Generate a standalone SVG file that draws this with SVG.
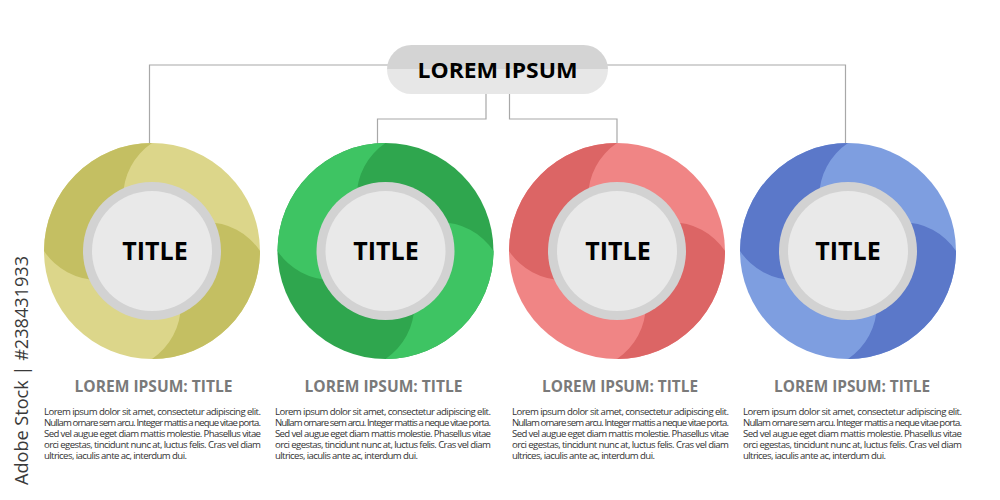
<svg xmlns="http://www.w3.org/2000/svg" width="1000" height="500" viewBox="0 0 1000 500">
<style>
.conn{fill:none;stroke:#a8a8a8;stroke-width:1.2}
.ring{fill:#d2d2d2}
.core{fill:#e9e9e9}
.ttl{font-family:"Open Sans","Liberation Sans",sans-serif;font-weight:bold;font-size:25px;fill:#000;text-anchor:middle}
.sub{font-family:"Open Sans","Liberation Sans",sans-serif;font-weight:bold;font-size:16px;fill:#7a7a7a;text-anchor:middle}
.body{font-family:"Open Sans","Liberation Sans",sans-serif;font-size:9.6px;fill:#333}
.main{font-family:"Open Sans","Liberation Sans",sans-serif;font-weight:bold;font-size:22px;fill:#000;text-anchor:middle}
.wm{font-family:"Open Sans","Liberation Sans",sans-serif;font-size:19px;fill:#3a3a3a}
</style>
<defs>
<linearGradient id="pillg" x1="0" y1="0" x2="0" y2="1">
<stop offset="0" stop-color="#d4d4d4"/>
<stop offset="0.49" stop-color="#d4d4d4"/>
<stop offset="0.49" stop-color="#e7e7e7"/>
<stop offset="1" stop-color="#e7e7e7"/>
</linearGradient>
</defs>
<rect width="1000" height="500" fill="#fff"/>
<g id="connectors">
<polyline class="conn" points="388,65 149.5,65 149.5,146"/>
<polyline class="conn" points="607,65 845.5,65 845.5,146"/>
<polyline class="conn" points="486,93 486,119 377.5,119 377.5,146"/>
<polyline class="conn" points="509.5,93 509.5,119 617,119 617,146"/>
</g>
<g id="main">
<rect x="387" y="45" width="221" height="49" rx="24.5" fill="url(#pillg)"/>
<text class="main" x="497.5" y="77.5" textLength="160" lengthAdjust="spacingAndGlyphs">LOREM IPSUM</text>
</g>
<g id="node1">
<circle cx="152" cy="251" r="108" fill="#dcd68a"/>
<path d="M44,251 A108,108 0 0 1 152,143 A65,65 0 0 0 152,251 A65,65 0 0 1 44,251 Z" fill="#c4bf62"/>
<path d="M260,251 A108,108 0 0 1 152,359 A65,65 0 0 0 152,251 A65,65 0 0 1 260,251 Z" fill="#c4bf62"/>
<circle class="ring" cx="152" cy="251" r="69"/>
<circle class="core" cx="152" cy="251" r="60"/>
<text class="ttl" x="155" y="260">TITLE</text>
<text class="sub" x="153.5" y="392" textLength="158" lengthAdjust="spacingAndGlyphs">LOREM IPSUM: TITLE</text>
<text class="body" x="44" y="415" textLength="217" lengthAdjust="spacing">Lorem ipsum dolor sit amet, consectetur adipiscing elit.</text>
<text class="body" x="44" y="426" textLength="217" lengthAdjust="spacing">Nullam ornare sem arcu. Integer mattis a neque vitae porta.</text>
<text class="body" x="44" y="437" textLength="217" lengthAdjust="spacing">Sed vel augue eget diam mattis molestie. Phasellus vitae</text>
<text class="body" x="44" y="448" textLength="217" lengthAdjust="spacing">orci egestas, tincidunt nunc at, luctus felis. Cras vel diam</text>
<text class="body" x="44" y="459" textLength="143" lengthAdjust="spacing">ultrices, iaculis ante ac, interdum dui.</text>
</g>
<g id="node2">
<circle cx="385.5" cy="251" r="108" fill="#2fa64e"/>
<path d="M277.5,251 A108,108 0 0 1 385.5,143 A65,65 0 0 0 385.5,251 A65,65 0 0 1 277.5,251 Z" fill="#3ec463"/>
<path d="M493.5,251 A108,108 0 0 1 385.5,359 A65,65 0 0 0 385.5,251 A65,65 0 0 1 493.5,251 Z" fill="#3ec463"/>
<circle class="ring" cx="385.5" cy="251" r="69"/>
<circle class="core" cx="385.5" cy="251" r="60"/>
<text class="ttl" x="386" y="260">TITLE</text>
<text class="sub" x="383.5" y="392" textLength="158" lengthAdjust="spacingAndGlyphs">LOREM IPSUM: TITLE</text>
<text class="body" x="275" y="415" textLength="216" lengthAdjust="spacing">Lorem ipsum dolor sit amet, consectetur adipiscing elit.</text>
<text class="body" x="275" y="426" textLength="216" lengthAdjust="spacing">Nullam ornare sem arcu. Integer mattis a neque vitae porta.</text>
<text class="body" x="275" y="437" textLength="216" lengthAdjust="spacing">Sed vel augue eget diam mattis molestie. Phasellus vitae</text>
<text class="body" x="275" y="448" textLength="216" lengthAdjust="spacing">orci egestas, tincidunt nunc at, luctus felis. Cras vel diam</text>
<text class="body" x="275" y="459" textLength="143" lengthAdjust="spacing">ultrices, iaculis ante ac, interdum dui.</text>
</g>
<g id="node3">
<circle cx="617" cy="251" r="108" fill="#f08585"/>
<path d="M509,251 A108,108 0 0 1 617,143 A65,65 0 0 0 617,251 A65,65 0 0 1 509,251 Z" fill="#dc6565"/>
<path d="M725,251 A108,108 0 0 1 617,359 A65,65 0 0 0 617,251 A65,65 0 0 1 725,251 Z" fill="#dc6565"/>
<circle class="ring" cx="617" cy="251" r="69"/>
<circle class="core" cx="617" cy="251" r="60"/>
<text class="ttl" x="618" y="260">TITLE</text>
<text class="sub" x="620" y="392" textLength="156" lengthAdjust="spacingAndGlyphs">LOREM IPSUM: TITLE</text>
<text class="body" x="512" y="415" textLength="217" lengthAdjust="spacing">Lorem ipsum dolor sit amet, consectetur adipiscing elit.</text>
<text class="body" x="512" y="426" textLength="217" lengthAdjust="spacing">Nullam ornare sem arcu. Integer mattis a neque vitae porta.</text>
<text class="body" x="512" y="437" textLength="217" lengthAdjust="spacing">Sed vel augue eget diam mattis molestie. Phasellus vitae</text>
<text class="body" x="512" y="448" textLength="217" lengthAdjust="spacing">orci egestas, tincidunt nunc at, luctus felis. Cras vel diam</text>
<text class="body" x="512" y="459" textLength="143" lengthAdjust="spacing">ultrices, iaculis ante ac, interdum dui.</text>
</g>
<g id="node4">
<circle cx="848" cy="251" r="108" fill="#7e9ee0"/>
<path d="M740,251 A108,108 0 0 1 848,143 A65,65 0 0 0 848,251 A65,65 0 0 1 740,251 Z" fill="#5b78c9"/>
<path d="M956,251 A108,108 0 0 1 848,359 A65,65 0 0 0 848,251 A65,65 0 0 1 956,251 Z" fill="#5b78c9"/>
<circle class="ring" cx="848" cy="251" r="69"/>
<circle class="core" cx="848" cy="251" r="60"/>
<text class="ttl" x="848" y="260">TITLE</text>
<text class="sub" x="852" y="392" textLength="156" lengthAdjust="spacingAndGlyphs">LOREM IPSUM: TITLE</text>
<text class="body" x="743" y="415" textLength="219" lengthAdjust="spacing">Lorem ipsum dolor sit amet, consectetur adipiscing elit.</text>
<text class="body" x="743" y="426" textLength="219" lengthAdjust="spacing">Nullam ornare sem arcu. Integer mattis a neque vitae porta.</text>
<text class="body" x="743" y="437" textLength="219" lengthAdjust="spacing">Sed vel augue eget diam mattis molestie. Phasellus vitae</text>
<text class="body" x="743" y="448" textLength="219" lengthAdjust="spacing">orci egestas, tincidunt nunc at, luctus felis. Cras vel diam</text>
<text class="body" x="743" y="459" textLength="143" lengthAdjust="spacing">ultrices, iaculis ante ac, interdum dui.</text>
</g>
<text class="wm" transform="translate(28,485) rotate(-90)" x="0" y="0" textLength="229" lengthAdjust="spacingAndGlyphs">Adobe Stock | #238431933</text>
</svg>
